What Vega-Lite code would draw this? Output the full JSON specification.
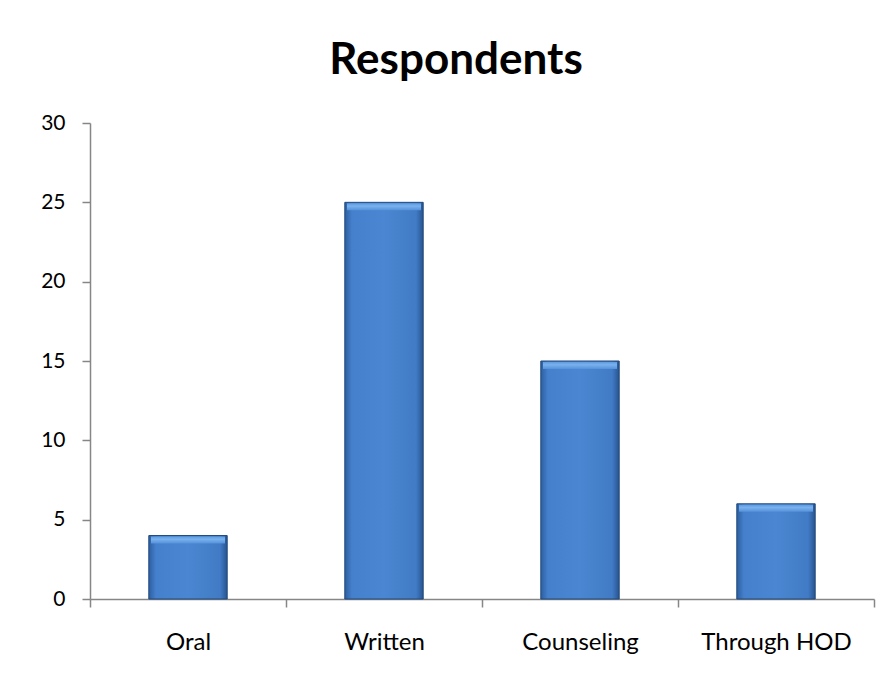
{
  "$schema": "https://vega.github.io/schema/vega-lite/v6.json",
  "width": 784,
  "height": 476,
  "autosize": {"type": "none"},
  "padding": {"left": 90, "top": 123, "right": 19, "bottom": 82},
  "background": "white",
  "title": {
    "text": "Respondents",
    "font": "Lato",
    "fontSize": 44,
    "fontWeight": "bold",
    "color": "#000000",
    "anchor": "middle",
    "dx": -26,
    "baseline": "alphabetic",
    "offset": -6
  },
  "data": {
    "values": [
      {"method": "Oral", "respondents": 4},
      {"method": "Written", "respondents": 25},
      {"method": "Counseling", "respondents": 15},
      {"method": "Through HOD", "respondents": 6}
    ]
  },
  "encoding": {
    "x": {
      "field": "method",
      "type": "nominal",
      "sort": null,
      "scale": {"paddingInner": 0, "paddingOuter": 0},
      "axis": {
        "title": null,
        "labelAngle": 0,
        "labelFont": "Lato",
        "labelFontSize": 24,
        "labelColor": "#000000",
        "labelBaseline": "alphabetic",
        "labelPadding": 42,
        "tickBand": "extent",
        "tickSize": 8,
        "tickColor": "#868686",
        "tickWidth": 1.5,
        "domainColor": "#868686",
        "domainWidth": 1.5
      }
    },
    "y": {
      "field": "respondents",
      "type": "quantitative",
      "scale": {"domain": [0, 30]},
      "axis": {
        "title": null,
        "values": [0, 5, 10, 15, 20, 25, 30],
        "grid": false,
        "labelFont": "Lato",
        "labelFontSize": 21,
        "labelColor": "#000000",
        "labelPadding": 17,
        "tickSize": 8,
        "tickColor": "#868686",
        "tickWidth": 1.5,
        "domainColor": "#868686",
        "domainWidth": 1.5
      }
    }
  },
  "layer": [
    {
      "mark": {
        "type": "bar",
        "width": {"band": 0.4},
        "stroke": "#22497c",
        "strokeWidth": 1,
        "color": {
          "gradient": "linear",
          "x1": 0, "y1": 0, "x2": 1, "y2": 0,
          "stops": [
            {"offset": 0, "color": "#2c5f9f"},
            {"offset": 0.09, "color": "#4480cc"},
            {"offset": 0.5, "color": "#4a86d1"},
            {"offset": 0.91, "color": "#417bc6"},
            {"offset": 1, "color": "#27548f"}
          ]
        }
      }
    },
    {
      "mark": {
        "type": "tick",
        "orient": "horizontal",
        "thickness": 7,
        "size": 74,
        "yOffset": 4.5,
        "opacity": 1,
        "color": {
          "gradient": "linear",
          "x1": 0, "y1": 0, "x2": 0, "y2": 1,
          "stops": [
            {"offset": 0, "color": "#5d9be0"},
            {"offset": 0.4, "color": "#7ab2ee"},
            {"offset": 1, "color": "#5590da"}
          ]
        }
      },
      "encoding": {
        "y": {"field": "respondents", "type": "quantitative"}
      }
    }
  ],
  "config": {"view": {"stroke": null}}
}
